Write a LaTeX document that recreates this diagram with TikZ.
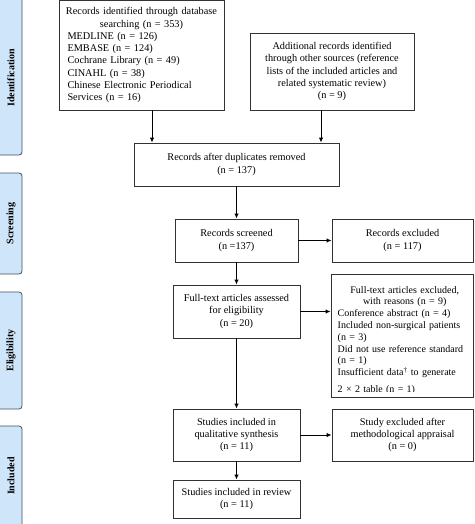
\documentclass[tikz,border=0pt]{standalone}
\usepackage{fontspec}
\setmainfont{Liberation Serif}
\usetikzlibrary{arrows.meta}
\definecolor{sidefill}{RGB}{207,229,250}
\definecolor{sidedraw}{RGB}{70,80,95}
\definecolor{boxdraw}{RGB}{50,50,50}
\tikzset{
  box/.style={draw=boxdraw, line width=0.9pt, inner sep=0pt, font=\fontsize{10.3}{12.3}\selectfont},
  side/.style={draw=sidedraw, fill=sidefill, rounded corners=3pt, line width=0.8pt, inner sep=0pt},
  sidelabel/.style={rotate=90, font=\fontsize{10}{12}\selectfont\bfseries},
  arr/.style={-{Latex[length=5pt,width=4.5pt]}, line width=0.9pt, draw=black},
}
\begin{document}
\begin{tikzpicture}[x=1pt,y=-1pt]
\useasboundingbox (0,0) rectangle (474,524);
% side phase boxes
\node[side, minimum width=25, minimum height=160] (sid) at (9.5,75) {};
\node[sidelabel] (lid) at (11,78) {Identification};
\node[side, minimum width=25, minimum height=101] (ssc) at (9.5,223.5) {};
\node[sidelabel] (lsc) at (11,223.5) {Screening};
\node[side, minimum width=25, minimum height=117] (sel) at (9.5,350.5) {};
\node[sidelabel] (lel) at (11,350.5) {Eligibility};
\node[side, minimum width=25, minimum height=110] (sin) at (9.5,481) {};
\node[sidelabel] (lin) at (11,476) {Included};
% main boxes
\node[box, minimum width=165, minimum height=109.5, text width=148, align=left] (b1) at (141.5,55.25)
 {\makebox[\linewidth][c]{Records identified through database}\\
  \makebox[\linewidth][c]{searching (n = 353)}\\
  MEDLINE (n = 126)\\ EMBASE (n = 124)\\ Cochrane Library (n = 49)\\ CINAHL (n = 38)\\ Chinese Electronic Periodical\\ Services (n = 16)};
\node[box, minimum width=164, minimum height=77, align=center] (b2) at (332,71.5)
 {Additional records identified\\ through other sources (reference\\ lists of the included articles and\\ related systematic review)\\ (n = 9)};
\node[box, minimum width=205, minimum height=43, align=center] (b3) at (236.5,164.5)
 {Records after duplicates removed\\ (n = 137)};
\node[box, minimum width=123, minimum height=43, align=center] (b4) at (236.5,240.5)
 {Records screened\\ (n =137)};
\node[box, minimum width=141, minimum height=43, align=center] (b5) at (402.5,240.5)
 {Records excluded\\ (n = 117)};
\node[box, minimum width=127, minimum height=53, align=center] (b6) at (236.5,311.5)
 {Full-text articles assessed\\ for eligibility\\ (n = 20)};
\node[box, minimum width=142, minimum height=123] (b7) at (402,335.5) {};
\begin{scope}
\clip (b7.north west) rectangle (473,391);
\node[anchor=north west, inner sep=0pt, text width=134, font=\fontsize{10}{11.8}\selectfont] (t7) at (337.5,286)
 {\centering Full-text articles excluded,\\ with reasons (n = 9)\par
  \raggedright Conference abstract (n = 4)\\ Included non-surgical patients\\ (n = 3)\\ Did not use reference standard\\ (n = 1)\\ Insufficient data\textsuperscript{\dag} to generate\\[4.5pt] 2 × 2 table (n = 1)\par};
\end{scope}
\node[box, minimum width=127, minimum height=52, align=center] (b8) at (236.5,435)
 {Studies included in\\ qualitative synthesis\\ (n = 11)};
\node[box, minimum width=141, minimum height=52, align=center] (b9) at (402.5,435)
 {Study excluded after\\ methodological appraisal\\ (n = 0)};
\node[box, minimum width=127, minimum height=38, align=center] (b10) at (236.5,499)
 {Studies included in review\\ (n = 11)};
% arrows
\coordinate (c1) at (152,0);
\coordinate (c2) at (321,0);
\draw[arr] (b1.south -| c1) -- (b3.north -| c1);
\draw[arr] (b2.south -| c2) -- (b3.north -| c2);
\draw[arr] (b3.south) -- (b4.north);
\draw[arr] (b4.east) -- (b5.west);
\draw[arr] (b4.south) -- (b6.north);
\draw[arr] (b6.east) -- (b7.west |- b6.east);
\draw[arr] (b6.south) -- (b8.north);
\draw[arr] (b8.east) -- (b9.west);
\draw[arr] (b8.south) -- (b10.north);
\end{tikzpicture}
\end{document}
